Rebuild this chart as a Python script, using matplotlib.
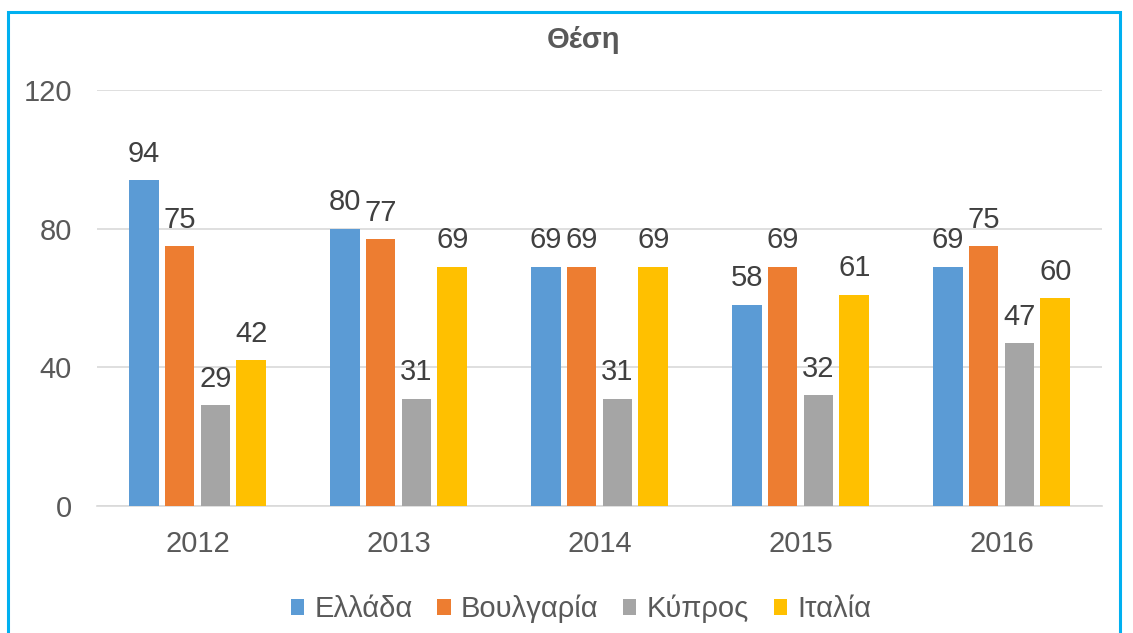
import matplotlib
matplotlib.use("Agg")
import matplotlib.pyplot as plt
import matplotlib.patches as mpatches
import numpy as np

plt.rcParams["font.family"] = ["Liberation Sans", "DejaVu Sans"]

# ---- data ----
years = ["2012", "2013", "2014", "2015", "2016"]
countries = ["Ελλάδα", "Βουλγαρία", "Κύπρος", "Ιταλία"]
greece = [94, 80, 69, 58, 69]
bulgaria = [75, 77, 69, 69, 75]
cyprus = [29, 31, 31, 32, 47]
italy = [42, 69, 69, 61, 60]
series = [greece, bulgaria, cyprus, italy]
colors = ["#5B9BD5", "#ED7D31", "#A5A5A5", "#FFC000"]

TEXT = "#595959"

fig = plt.figure(figsize=(11.33, 6.33), dpi=100)
ax = fig.add_axes([97 / 1133, 1 - 506 / 633, (1102 - 97) / 1133, (506 - 90) / 633])

x = np.arange(len(years))
width = 0.149
step = 0.179
for i, (vals, col, name) in enumerate(zip(series, colors, countries)):
    pos = x + (i - 1.5) * step
    bars = ax.bar(pos, vals, width=width, color=col, label=name, zorder=3)
    for b, v in zip(bars, vals):
        ax.annotate(str(v), (b.get_x() + b.get_width() / 2, v),
                    xytext=(0, 9), textcoords="offset points",
                    ha="center", va="bottom", fontsize=21, color="#404040")

ax.set_xlim(-0.5, len(years) - 0.5)
ax.set_ylim(0, 120)
ax.set_yticks([0, 40, 80, 120])
ax.set_xticks(x)
ax.set_xticklabels(years)
ax.tick_params(axis="both", length=0, labelsize=21, colors=TEXT)
ax.tick_params(axis="x", pad=17)
ax.tick_params(axis="y", pad=18)
ax.grid(axis="y", color="#D9D9D9", linewidth=1.2, zorder=0)
for s in ["top", "right", "left"]:
    ax.spines[s].set_visible(False)
ax.spines["bottom"].set_color("#D9D9D9")
ax.spines["bottom"].set_linewidth(1.2)

fig.text(583 / 1133, 1 - 40 / 633, "Θέση", ha="center", va="center",
         fontsize=21, fontweight="bold", color=TEXT)

ax.legend(loc="center", bbox_to_anchor=(581 / 1133, 1 - 609 / 633), bbox_transform=fig.transFigure,
          ncol=4, frameon=False, fontsize=21, handlelength=0.45, handleheight=0.45,
          handletextpad=0.35, columnspacing=0.85, labelcolor=TEXT)

# light blue outer border (bottom edge is cropped in the reference)
border = mpatches.Rectangle((8 / 1133, -0.05), (1120 - 8) / 1133, 1 - 12 / 633 + 0.05,
                            transform=fig.transFigure, fill=False,
                            edgecolor="#00B0F0", linewidth=2.2)
fig.add_artist(border)

fig.savefig("out.png", dpi=100)
